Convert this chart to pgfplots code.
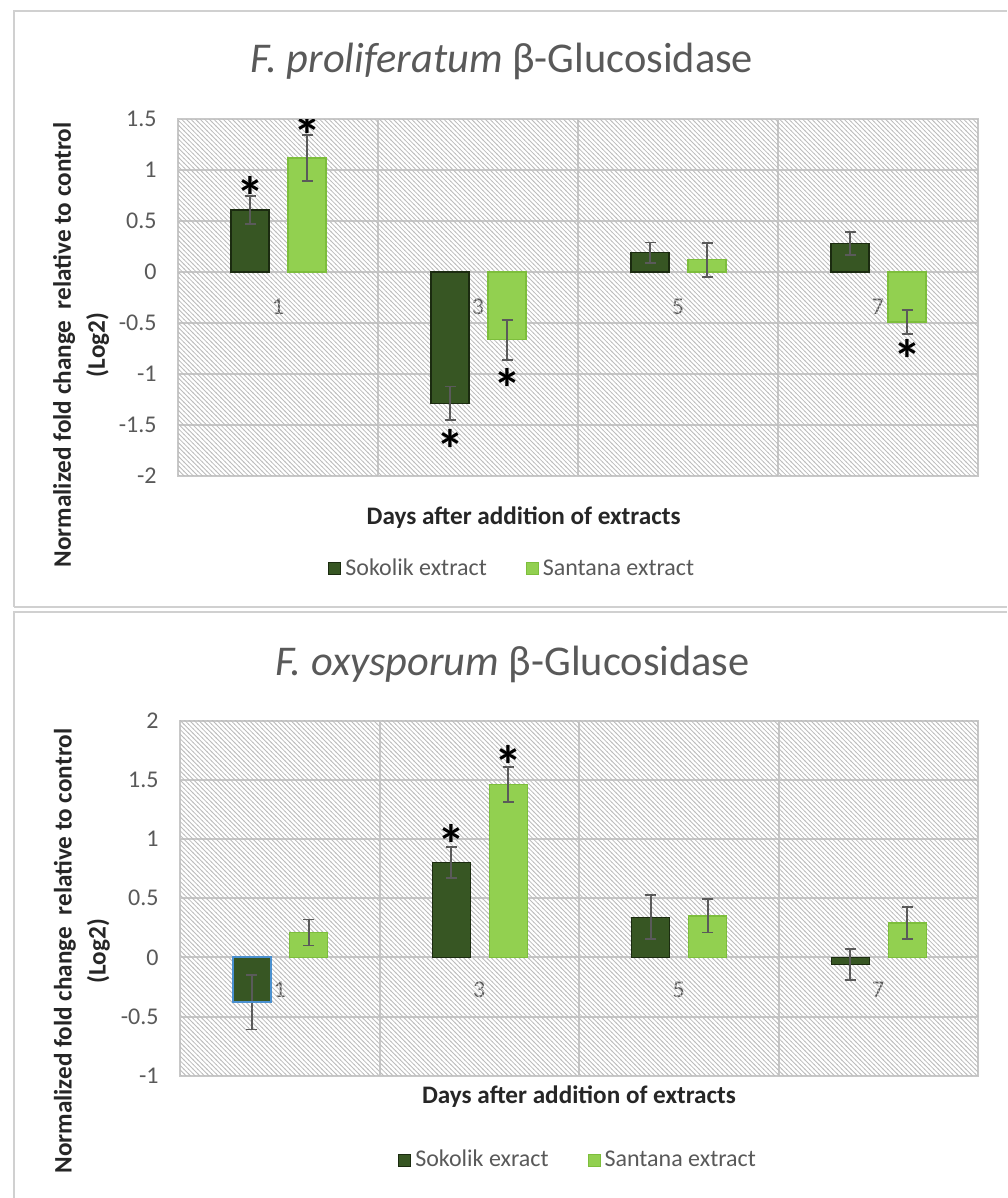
\documentclass[border=0pt]{standalone}
\usepackage{fontspec}
\setmainfont{Carlito}
\usepackage{pgfplots}
\pgfplotsset{compat=1.18}
\usetikzlibrary{patterns}
\definecolor{sokfill}{HTML}{375623}
\definecolor{sokline}{HTML}{1B2B10}
\definecolor{sanfill}{HTML}{92D050}
\definecolor{sanline}{HTML}{7DBE3C}
\definecolor{gridc}{HTML}{C8C8C8}
\definecolor{hatchc}{HTML}{BCBCBC}
\definecolor{txt}{HTML}{595959}
\definecolor{ttl}{HTML}{262626}
\definecolor{errc}{HTML}{5A5A5A}
\definecolor{selblue}{HTML}{4A90D0}
\definecolor{framec}{HTML}{D0D0D0}

\pgfdeclarepatternformonly{hatchnw}{\pgfqpoint{-1pt}{-1pt}}{\pgfqpoint{3.3pt}{3.3pt}}{\pgfqpoint{2.3pt}{2.3pt}}{%
  \pgfsetlinewidth{0.4pt}%
  \pgfpathmoveto{\pgfqpoint{-0.2pt}{2.5pt}}%
  \pgfpathlineto{\pgfqpoint{2.5pt}{-0.2pt}}%
  \pgfusepath{stroke}%
}

\pgfplotsset{
 mystyle/.style={
  scale only axis,
  ybar, bar width=0.19,
  xmin=-0.5, xmax=3.5,
  xtick={0,1,2,3}, xticklabels={1,3,5,7},
  minor xtick={0.5,1.5,2.5},
  xminorgrids=true, ymajorgrids=true, xmajorgrids=false,
  major grid style={draw=gridc, line width=1pt},
  minor grid style={draw=gridc, line width=1pt},
  axis line style={draw=gridc, line width=1pt},
  major tick length=0pt, minor tick length=0pt,
  tick style={draw=none},
  /pgf/number format/assume math mode=true,
  tick label style={font=\fontsize{12}{14}\selectfont, text=txt},
  yticklabel style={inner sep=0pt, anchor=east, xshift=-10.5pt},
  xticklabel style={inner sep=0pt, anchor=north},
  ylabel style={align=center, font=\bfseries\fontsize{12.6}{17}\selectfont, text=ttl},
  xlabel style={font=\bfseries\fontsize{12.6}{15}\selectfont, text=ttl, anchor=base},
  title style={font=\fontsize{21.2}{25}\selectfont, text=txt, anchor=base, yshift=-6pt},
  legend columns=2,
  legend style={draw=none, fill=none, font=\fontsize{12}{14}\selectfont, text=txt, inner sep=0pt,
    /tikz/every even column/.append style={column sep=17.5pt}},
  error bars/y dir=both, error bars/y explicit,
  error bars/error bar style={draw=errc, line width=0.9pt},
  error bars/error mark options={rotate=90, mark size=2.75pt, line width=0.9pt, draw=errc},
 },
 sok/.style={bar shift=-0.14, fill=sokfill, draw=sokline, line width=0.6pt},
 san/.style={bar shift=0.145, fill=sanfill, draw=sanline, line width=0.6pt},
}
\newcommand{\sig}{\fontsize{28}{28}\selectfont\bfseries *}
\tikzset{sigstar/.style={inner sep=0pt, text=black, yshift=-5.9pt}}

\begin{document}
\begin{tikzpicture}[x=1pt,y=1pt]
\useasboundingbox (0,0) rectangle (503.5,599);
% panel frames
\draw[framec, line width=1pt] (7,295.5) -- (7,593.5) -- (503.5,593.5);
\draw[framec, line width=1pt] (7,295.5) -- (503.5,295.5);
\draw[framec, line width=1pt] (7,0) -- (7,293) -- (503.5,293);

% ---------- top panel ----------
\begin{axis}[mystyle,
  at={(89pt,361.15pt)}, anchor=south west,
  width=400pt, height=178.2pt,
  ymin=-2, ymax=1.5, ytick={-2,-1.5,-1,-0.5,0,0.5,1,1.5},
  xticklabel style={yshift=88.7pt},
  title={\textit{F. proliferatum} β-Glucosidase},
  title style={at={(axis description cs:0.405,1.13)}},
  xlabel={Days after addition of extracts},
  xlabel style={at={(axis description cs:0.432,-0.1383)}},
  ylabel={Normalized fold change\ \ relative to control\\(Log2)},
  ylabel style={at={(axis description cs:-0.121,0.367)}, anchor=center},
  legend style={at={(axis description cs:0.1875,-0.2618)}, anchor=west},
  legend image code/.code={\draw[#1, line width=0.5pt] (0pt,-3pt) rectangle (6pt,3pt);},
]
\fill[pattern=hatchnw, pattern color=hatchc] (rel axis cs:0,0) rectangle (rel axis cs:1,1);
\addplot[sok] coordinates {(0,0.61) +- (0,0.14) (1,-1.29) +- (0,0.165) (2,0.19) +- (0,0.10) (3,0.28) +- (0,0.11)};
\addlegendentry{Sokolik extract}
\addplot[san] coordinates {(0,1.12) +- (0,0.225) (1,-0.665) +- (0,0.195) (2,0.12) +- (0,0.165) (3,-0.49) +- (0,0.115)};
\addlegendentry{Santana extract}
\node[sigstar] at (axis cs:-0.14,0.86) {\sig};
\node[sigstar] at (axis cs:0.145,1.46) {\sig};
\node[sigstar] at (axis cs:0.86,-1.63) {\sig};
\node[sigstar] at (axis cs:1.145,-1.03) {\sig};
\node[sigstar] at (axis cs:3.145,-0.74) {\sig};
\end{axis}

% ---------- bottom panel ----------
\begin{axis}[mystyle,
  at={(90pt,61.15pt)}, anchor=south west,
  width=399pt, height=177.5pt,
  ymin=-1, ymax=2, ytick={-1,-0.5,0,0.5,1,1.5,2},
  xticklabel style={yshift=47pt},
  title={\textit{F. oxysporum} β-Glucosidase},
  title style={at={(axis description cs:0.4167,1.1287)}},
  xlabel={Days after addition of extracts},
  xlabel style={at={(axis description cs:0.5,-0.0797)}},
  ylabel={Normalized fold change\ \ relative to control\\(Log2)},
  ylabel style={at={(axis description cs:-0.123,0.351)}, anchor=center},
  legend style={at={(axis description cs:0.273,-0.2375)}, anchor=west},
  legend image code/.code={\draw[#1, line width=0.5pt] (0pt,-3pt) rectangle (6pt,3pt);},
]
\fill[pattern=hatchnw, pattern color=hatchc] (rel axis cs:0,0) rectangle (rel axis cs:1,1);
\addplot[sok] coordinates {(0,-0.38) +- (0,0.23) (1,0.80) +- (0,0.13) (2,0.34) +- (0,0.185) (3,-0.06) +- (0,0.13)};
\addlegendentry{Sokolik exract}
\addplot[san] coordinates {(0,0.21) +- (0,0.11) (1,1.46) +- (0,0.15) (2,0.35) +- (0,0.14) (3,0.29) +- (0,0.135)};
\addlegendentry{Santana extract}
\addplot[bar shift=-0.14, fill=none, draw=selblue, line width=1pt, forget plot, error bars/y dir=none] coordinates {(0,-0.38)};
\node[sigstar] at (axis cs:0.86,1.05) {\sig};
\node[sigstar] at (axis cs:1.145,1.72) {\sig};
\end{axis}
\end{tikzpicture}
\end{document}
